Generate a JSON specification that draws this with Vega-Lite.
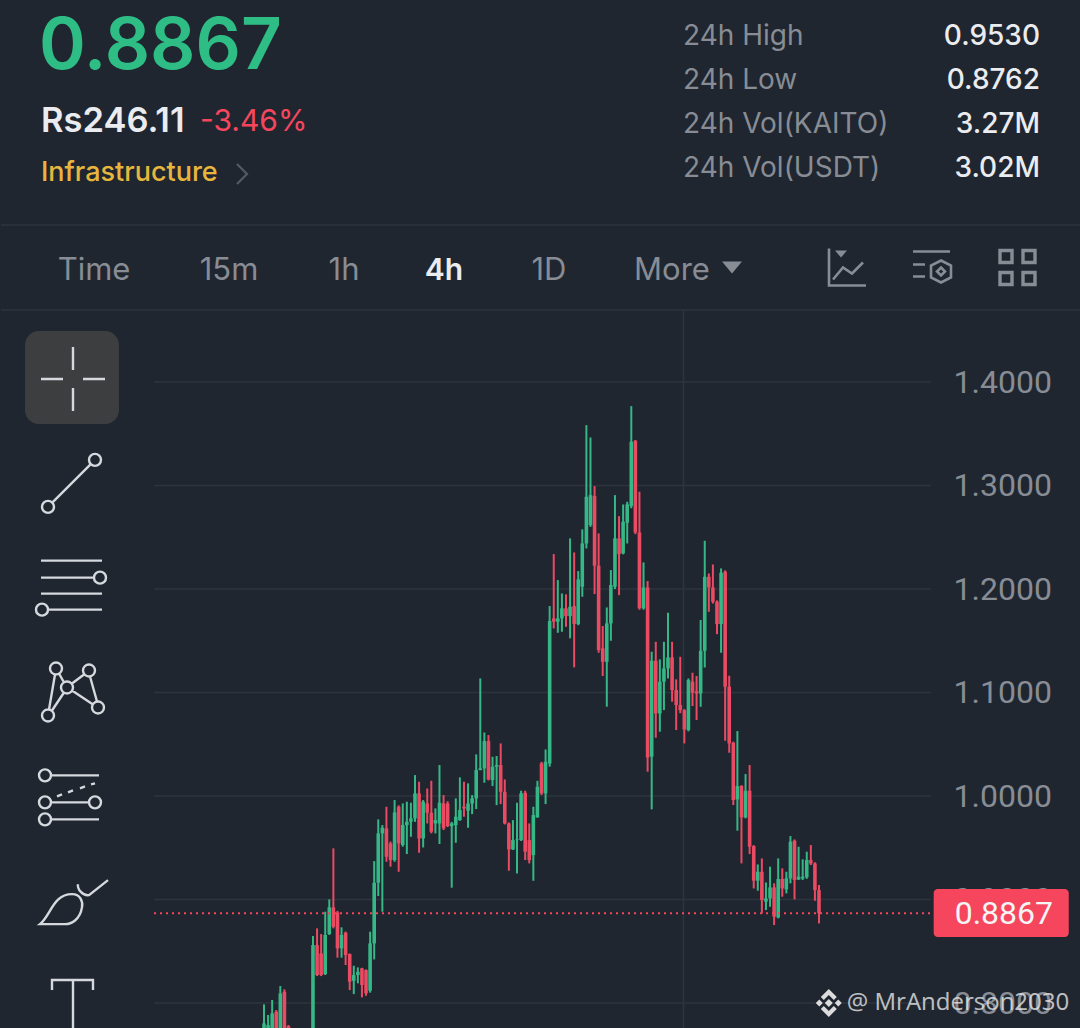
{
  "$schema": "https://vega.github.io/schema/vega-lite/v6.json",
  "background": "#1f2630",
  "padding": 0,
  "spacing": 0,
  "bounds": "flush",
  "config": {
    "view": {"stroke": null},
    "axisX": {"disable": true},
    "text": {"font": "Inter"},
    "concat": {"spacing": 0}
  },
  "datasets": {
    "candles": [
      {"t":0,"dir":"up","open":0.75,"close":0.7803,"high":0.7987,"low":0.74},
      {"t":1,"dir":"up","open":0.76,"close":0.7787,"high":0.7884,"low":0.75},
      {"t":2,"dir":"up","open":0.77,"close":0.79,"high":0.8029,"low":0.76},
      {"t":3,"dir":"down","open":0.7916,"close":0.77,"high":0.7932,"low":0.76},
      {"t":4,"dir":"up","open":0.775,"close":0.8093,"high":0.8164,"low":0.77},
      {"t":5,"dir":"down","open":0.8109,"close":0.772,"high":0.8132,"low":0.765},
      {"t":6,"dir":"down","open":0.7777,"close":0.76,"high":0.7787,"low":0.75},
      {"t":12,"dir":"up","open":0.74,"close":0.856,"high":0.8647,"low":0.73},
      {"t":13,"dir":"down","open":0.856,"close":0.827,"high":0.8721,"low":0.826},
      {"t":14,"dir":"down","open":0.8479,"close":0.827,"high":0.8666,"low":0.826},
      {"t":15,"dir":"up","open":0.828,"close":0.8657,"high":0.8882,"low":0.827},
      {"t":16,"dir":"up","open":0.8666,"close":0.8924,"high":0.9001,"low":0.8657},
      {"t":17,"dir":"down","open":0.8924,"close":0.8737,"high":0.9494,"low":0.8721},
      {"t":18,"dir":"down","open":0.8875,"close":0.8528,"high":0.889,"low":0.8438},
      {"t":19,"dir":"up","open":0.8528,"close":0.8657,"high":0.8731,"low":0.8438},
      {"t":20,"dir":"down","open":0.8679,"close":0.8463,"high":0.869,"low":0.8367},
      {"t":21,"dir":"down","open":0.8473,"close":0.8206,"high":0.8479,"low":0.8125},
      {"t":22,"dir":"up","open":0.8215,"close":0.827,"high":0.836,"low":0.8086},
      {"t":23,"dir":"up","open":0.827,"close":0.8302,"high":0.8344,"low":0.819},
      {"t":24,"dir":"down","open":0.8335,"close":0.8174,"high":0.834,"low":0.8054},
      {"t":25,"dir":"down","open":0.8318,"close":0.8093,"high":0.8325,"low":0.807},
      {"t":26,"dir":"up","open":0.8119,"close":0.8576,"high":0.8689,"low":0.81},
      {"t":27,"dir":"up","open":0.8576,"close":0.9162,"high":0.9371,"low":0.8421},
      {"t":28,"dir":"up","open":0.9162,"close":0.9639,"high":0.9774,"low":0.9033},
      {"t":29,"dir":"up","open":0.9639,"close":0.9693,"high":0.9719,"low":0.8882},
      {"t":30,"dir":"down","open":0.9687,"close":0.9413,"high":0.9896,"low":0.9365},
      {"t":31,"dir":"down","open":0.9542,"close":0.9381,"high":0.956,"low":0.9317},
      {"t":32,"dir":"up","open":0.9381,"close":0.9841,"high":0.9961,"low":0.9365},
      {"t":33,"dir":"down","open":0.9896,"close":0.9542,"high":0.991,"low":0.9268},
      {"t":34,"dir":"up","open":0.9526,"close":0.9719,"high":0.9928,"low":0.951},
      {"t":35,"dir":"up","open":0.9719,"close":0.9751,"high":0.9945,"low":0.9439},
      {"t":36,"dir":"up","open":0.9751,"close":0.9784,"high":0.9935,"low":0.9606},
      {"t":37,"dir":"up","open":0.9784,"close":1.0025,"high":1.0202,"low":0.975},
      {"t":38,"dir":"down","open":1.0025,"close":0.959,"high":1.0138,"low":0.9452},
      {"t":39,"dir":"up","open":0.959,"close":0.9945,"high":0.9961,"low":0.9503},
      {"t":40,"dir":"down","open":0.9928,"close":0.9838,"high":1.0073,"low":0.9735},
      {"t":41,"dir":"down","open":0.9838,"close":0.9655,"high":1.0147,"low":0.9639},
      {"t":42,"dir":"up","open":0.9735,"close":0.9767,"high":0.988,"low":0.9639},
      {"t":43,"dir":"up","open":0.9735,"close":0.9935,"high":1.0299,"low":0.9536},
      {"t":44,"dir":"down","open":0.9928,"close":0.9687,"high":1.0009,"low":0.9671},
      {"t":45,"dir":"down","open":0.9928,"close":0.9709,"high":0.995,"low":0.97},
      {"t":46,"dir":"up","open":0.9709,"close":0.9735,"high":0.975,"low":0.9114},
      {"t":47,"dir":"up","open":0.9719,"close":0.98,"high":0.9977,"low":0.9548},
      {"t":48,"dir":"up","open":0.9767,"close":0.9864,"high":1.018,"low":0.9761},
      {"t":49,"dir":"down","open":0.9896,"close":0.988,"high":1.0138,"low":0.98},
      {"t":50,"dir":"up","open":0.9858,"close":0.9928,"high":1.0122,"low":0.9693},
      {"t":51,"dir":"up","open":0.9928,"close":0.9977,"high":1.0009,"low":0.9825},
      {"t":52,"dir":"up","open":0.9977,"close":1.025,"high":1.0402,"low":0.9874},
      {"t":53,"dir":"up","open":1.025,"close":1.0267,"high":1.1136,"low":1.025},
      {"t":54,"dir":"up","open":1.0267,"close":1.0531,"high":1.0614,"low":1.0128},
      {"t":55,"dir":"down","open":1.0531,"close":1.016,"high":1.0589,"low":1.015},
      {"t":56,"dir":"up","open":1.0154,"close":1.0283,"high":1.0379,"low":1.0096},
      {"t":57,"dir":"up","open":1.0283,"close":1.0299,"high":1.0386,"low":0.9912},
      {"t":58,"dir":"down","open":1.0299,"close":1.0041,"high":1.0508,"low":0.9922},
      {"t":59,"dir":"down","open":1.0041,"close":0.9735,"high":1.016,"low":0.9725},
      {"t":60,"dir":"down","open":0.9735,"close":0.9484,"high":0.9745,"low":0.9278},
      {"t":61,"dir":"up","open":0.9484,"close":0.9574,"high":0.9767,"low":0.9478},
      {"t":62,"dir":"up","open":0.9574,"close":0.9581,"high":0.9935,"low":0.9252},
      {"t":63,"dir":"up","open":0.9574,"close":1.0025,"high":1.0051,"low":0.9565},
      {"t":64,"dir":"down","open":1.0031,"close":0.9462,"high":1.0051,"low":0.9381},
      {"t":65,"dir":"down","open":0.9574,"close":0.9381,"high":0.9735,"low":0.9349},
      {"t":66,"dir":"up","open":0.9429,"close":0.9816,"high":0.9896,"low":0.9181},
      {"t":67,"dir":"up","open":0.9794,"close":1.0089,"high":1.0147,"low":0.979},
      {"t":68,"dir":"down","open":1.0315,"close":1.0025,"high":1.033,"low":1.001},
      {"t":69,"dir":"up","open":1.0025,"close":1.0331,"high":1.045,"low":0.9922},
      {"t":70,"dir":"up","open":1.0315,"close":1.169,"high":1.1835,"low":1.0283},
      {"t":71,"dir":"down","open":1.1716,"close":1.1684,"high":1.2337,"low":1.1619},
      {"t":72,"dir":"up","open":1.1684,"close":1.1716,"high":1.2086,"low":1.1577},
      {"t":73,"dir":"up","open":1.1716,"close":1.1813,"high":1.1957,"low":1.1587},
      {"t":74,"dir":"down","open":1.1813,"close":1.1738,"high":1.1948,"low":1.1635},
      {"t":75,"dir":"up","open":1.1738,"close":1.1829,"high":1.2489,"low":1.1523},
      {"t":76,"dir":"down","open":1.1835,"close":1.1661,"high":1.2353,"low":1.1243},
      {"t":77,"dir":"up","open":1.1661,"close":1.2093,"high":1.2173,"low":1.165},
      {"t":78,"dir":"up","open":1.2022,"close":1.244,"high":1.2576,"low":1.1925},
      {"t":79,"dir":"up","open":1.244,"close":1.2891,"high":1.3583,"low":1.2392},
      {"t":80,"dir":"up","open":1.2617,"close":1.2907,"high":1.3464,"low":1.26},
      {"t":81,"dir":"down","open":1.2898,"close":1.2225,"high":1.2994,"low":1.1951},
      {"t":82,"dir":"down","open":1.2225,"close":1.141,"high":1.2537,"low":1.1384},
      {"t":83,"dir":"down","open":1.1426,"close":1.1297,"high":1.1642,"low":1.1159},
      {"t":84,"dir":"up","open":1.1297,"close":1.1668,"high":1.1822,"low":1.0863},
      {"t":85,"dir":"up","open":1.1668,"close":1.2038,"high":1.2183,"low":1.15},
      {"t":86,"dir":"up","open":1.2022,"close":1.2489,"high":1.2907,"low":1.2},
      {"t":87,"dir":"down","open":1.2489,"close":1.2337,"high":1.2704,"low":1.1941},
      {"t":88,"dir":"up","open":1.2344,"close":1.265,"high":1.2817,"low":1.2335},
      {"t":89,"dir":"up","open":1.264,"close":1.2817,"high":1.2843,"low":1.244},
      {"t":90,"dir":"up","open":1.2801,"close":1.3423,"high":1.3767,"low":1.278},
      {"t":91,"dir":"down","open":1.3432,"close":1.2547,"high":1.344,"low":1.253},
      {"t":92,"dir":"down","open":1.2547,"close":1.1813,"high":1.294,"low":1.18},
      {"t":93,"dir":"up","open":1.1813,"close":1.2015,"high":1.2257,"low":1.18},
      {"t":94,"dir":"down","open":1.2015,"close":1.0373,"high":1.2077,"low":1.0235},
      {"t":95,"dir":"up","open":1.038,"close":1.1307,"high":1.1394,"low":0.9871},
      {"t":96,"dir":"down","open":1.1307,"close":1.0798,"high":1.149,"low":1.0563},
      {"t":97,"dir":"up","open":1.0798,"close":1.1104,"high":1.132,"low":1.0621},
      {"t":98,"dir":"up","open":1.1104,"close":1.1233,"high":1.149,"low":1.083},
      {"t":99,"dir":"up","open":1.1233,"close":1.1339,"high":1.1771,"low":1.1136},
      {"t":100,"dir":"down","open":1.1339,"close":1.1024,"high":1.149,"low":1.0911},
      {"t":101,"dir":"down","open":1.1024,"close":1.0879,"high":1.1127,"low":1.0637},
      {"t":102,"dir":"down","open":1.0879,"close":1.083,"high":1.1345,"low":1.08},
      {"t":103,"dir":"down","open":1.083,"close":1.0643,"high":1.084,"low":1.0508},
      {"t":104,"dir":"up","open":1.0637,"close":1.112,"high":1.1136,"low":1.0625},
      {"t":105,"dir":"down","open":1.1104,"close":1.0998,"high":1.1191,"low":1.0869},
      {"t":106,"dir":"down","open":1.1011,"close":1.0991,"high":1.1159,"low":1.0734},
      {"t":107,"dir":"up","open":1.0991,"close":1.1403,"high":1.17,"low":1.0862},
      {"t":108,"dir":"up","open":1.1403,"close":1.2118,"high":1.2466,"low":1.1242},
      {"t":109,"dir":"down","open":1.2118,"close":1.2015,"high":1.215,"low":1.178},
      {"t":110,"dir":"down","open":1.2015,"close":1.1877,"high":1.2237,"low":1.186},
      {"t":111,"dir":"down","open":1.1877,"close":1.1661,"high":1.189,"low":1.1564},
      {"t":112,"dir":"up","open":1.1661,"close":1.2157,"high":1.2199,"low":1.1384},
      {"t":113,"dir":"down","open":1.2167,"close":1.1056,"high":1.218,"low":1.0534},
      {"t":114,"dir":"down","open":1.1056,"close":1.0508,"high":1.1162,"low":1.0418},
      {"t":115,"dir":"down","open":1.0515,"close":0.9961,"high":1.0525,"low":0.9913},
      {"t":116,"dir":"up","open":0.9967,"close":1.0096,"high":1.0627,"low":0.9665},
      {"t":117,"dir":"down","open":1.0096,"close":0.9793,"high":1.0105,"low":0.9349},
      {"t":118,"dir":"up","open":0.9793,"close":1.0051,"high":1.0212,"low":0.9784},
      {"t":119,"dir":"down","open":1.0051,"close":0.951,"high":1.0299,"low":0.9439},
      {"t":120,"dir":"down","open":0.9516,"close":0.9182,"high":0.9525,"low":0.9107},
      {"t":121,"dir":"up","open":0.9182,"close":0.9268,"high":0.9339,"low":0.9085},
      {"t":122,"dir":"down","open":0.9268,"close":0.8995,"high":0.9397,"low":0.8866},
      {"t":123,"dir":"up","open":0.8979,"close":0.9011,"high":0.9165,"low":0.8898},
      {"t":124,"dir":"up","open":0.9011,"close":0.9117,"high":0.9317,"low":0.893},
      {"t":125,"dir":"down","open":0.9117,"close":0.8834,"high":0.9156,"low":0.8753},
      {"t":126,"dir":"up","open":0.8827,"close":0.9198,"high":0.9397,"low":0.8818},
      {"t":127,"dir":"down","open":0.9198,"close":0.9107,"high":0.9301,"low":0.9027},
      {"t":128,"dir":"up","open":0.9098,"close":0.9204,"high":0.9268,"low":0.9059},
      {"t":129,"dir":"up","open":0.9204,"close":0.9558,"high":0.9613,"low":0.9156},
      {"t":130,"dir":"down","open":0.9568,"close":0.9188,"high":0.958,"low":0.9001},
      {"t":131,"dir":"up","open":0.9194,"close":0.922,"high":0.951,"low":0.9188},
      {"t":132,"dir":"up","open":0.9204,"close":0.922,"high":0.9388,"low":0.9188},
      {"t":133,"dir":"up","open":0.9215,"close":0.9381,"high":0.9462,"low":0.92},
      {"t":134,"dir":"down","open":0.9381,"close":0.9349,"high":0.9526,"low":0.9333},
      {"t":135,"dir":"down","open":0.9349,"close":0.9091,"high":0.936,"low":0.8988},
      {"t":136,"dir":"down","open":0.9091,"close":0.8867,"high":0.914,"low":0.8769}
    ],
    "stats": [
      {"line":"1","metric":"24h High","value":"0.9530"},
      {"line":"2","metric":"24h Low","value":"0.8762"},
      {"line":"3","metric":"24h Vol(KAITO)","value":"3.27M"},
      {"line":"4","metric":"24h Vol(USDT)","value":"3.02M"}
    ],
    "tools": [
      {"tool":"crosshair"},
      {"tool":"trendline"},
      {"tool":"fib"},
      {"tool":"pattern"},
      {"tool":"channel"},
      {"tool":"brush"},
      {"tool":"text"}
    ]
  },
  "vconcat": [
    {
      "width": 1080,
      "height": 225,
      "encoding": {
        "y": {"field":"line","type":"nominal","axis":null,"scale":{"type":"point","domain":["1","2","3","4"],"range":[38,170],"padding":0}}
      },
      "layer": [
        {
          "data": {"values": [{"line":"1","price":"0.8867"}]},
          "mark": {"type":"text","align":"left","fontSize":71,"fontWeight":600,"color":"#2ebd85","dy":10},
          "encoding": {
            "x": {"datum":38,"type":"quantitative","scale":{"domain":[0,1080],"nice":false,"zero":false}},
            "text": {"field":"price"}
          }
        },
        {
          "data": {"values": [{"line":"3","fiat":"Rs246.11"}]},
          "mark": {"type":"text","align":"left","fontSize":34.5,"fontWeight":600,"color":"#eaecef","dy":-4},
          "encoding": {
            "x": {"datum":40,"type":"quantitative"},
            "text": {"field":"fiat"}
          }
        },
        {
          "data": {"values": [{"line":"3","change":"-3.46%"}]},
          "mark": {"type":"text","align":"left","fontSize":30,"color":"#f6465d","dy":-4},
          "encoding": {
            "x": {"datum":199,"type":"quantitative"},
            "text": {"field":"change"}
          }
        },
        {
          "data": {"values": [{"line":"4","tag":"Infrastructure"}]},
          "mark": {"type":"text","align":"left","fontSize":27,"fontWeight":500,"color":"#e8b63c","dy":3},
          "encoding": {
            "x": {"datum":40,"type":"quantitative"},
            "text": {"field":"tag"}
          }
        },
        {
          "data": {"values": [{"line":"4"}]},
          "mark": {"type":"point","shape":"M-4,-6L6,4L-4,14","size":4,"filled":false,"stroke":"#6b7078","strokeWidth":2.2},
          "encoding": {
            "x": {"datum":240,"type":"quantitative"}
          }
        },
        {
          "data": {"name": "stats"},
          "mark": {"type":"text","align":"left","fontSize":28,"color":"#888c94","dy":-1},
          "encoding": {
            "x": {"datum":682,"type":"quantitative"},
            "text": {"field":"metric"}
          }
        },
        {
          "data": {"name": "stats"},
          "mark": {"type":"text","align":"right","fontSize":28,"fontWeight":500,"color":"#eaecef","dy":-1},
          "encoding": {
            "x": {"datum":1039,"type":"quantitative"},
            "text": {"field":"value"}
          }
        }
      ]
    },
    {
      "width": 1080,
      "height": 85,
      "layer": [
        {
          "data": {"values": [{"edge":0},{"edge":1}]},
          "mark": {"type":"rule","stroke":"#2e343e","strokeWidth":1.5},
          "encoding": {
            "y": {"field":"edge","type":"quantitative","axis":null,"scale":{"domain":[0,1],"reverse":true,"nice":false,"zero":false}}
          }
        },
        {
          "data": {"values": [{"tab":"Time"}]},
          "mark": {"type":"text","fontSize":31,"color":"#888c94","dy":3},
          "encoding": {
            "x": {"datum":93,"type":"quantitative","scale":{"domain":[0,1080],"nice":false,"zero":false}},
            "text": {"field":"tab"}
          }
        },
        {
          "data": {"values": [{"tab":"15m"}]},
          "mark": {"type":"text","fontSize":31,"color":"#888c94","dy":3},
          "encoding": {"x": {"datum":228,"type":"quantitative"},"text": {"field":"tab"}}
        },
        {
          "data": {"values": [{"tab":"1h"}]},
          "mark": {"type":"text","fontSize":31,"color":"#888c94","dy":3},
          "encoding": {"x": {"datum":343,"type":"quantitative"},"text": {"field":"tab"}}
        },
        {
          "data": {"values": [{"tab":"4h"}]},
          "mark": {"type":"text","fontSize":30,"fontWeight":600,"color":"#eaecef","dy":3},
          "encoding": {"x": {"datum":443,"type":"quantitative"},"text": {"field":"tab"}}
        },
        {
          "data": {"values": [{"tab":"1D"}]},
          "mark": {"type":"text","fontSize":31,"color":"#888c94","dy":3},
          "encoding": {"x": {"datum":548,"type":"quantitative"},"text": {"field":"tab"}}
        },
        {
          "data": {"values": [{"tab":"More"}]},
          "mark": {"type":"text","fontSize":31,"color":"#888c94","dy":3},
          "encoding": {"x": {"datum":671,"type":"quantitative"},"text": {"field":"tab"}}
        },
        {
          "data": {"values": [{"icon":"caret"}]},
          "mark": {"type":"point","shape":"M-10,-6H10L0,6Z","size":4,"filled":true,"fill":"#888c94","opacity":1},
          "encoding": {"x": {"datum":731,"type":"quantitative"}}
        },
        {
          "data": {"values": [{"icon":"indicators"}]},
          "mark": {"type":"point","shape":"M-18,-19V18H19M-14,12L-4,0L5,6L16,-5","size":4,"filled":false,"stroke":"#888c94","strokeWidth":2.6,"opacity":1},
          "encoding": {"x": {"datum":846,"type":"quantitative"}}
        },
        {
          "data": {"values": [{"icon":"indicators-mark"}]},
          "mark": {"type":"point","shape":"M-12,-17H0L-6,-10Z","size":4,"filled":true,"fill":"#888c94","opacity":1},
          "encoding": {"x": {"datum":846,"type":"quantitative"}}
        },
        {
          "data": {"values": [{"icon":"settings"}]},
          "mark": {"type":"point","shape":"M-19,-16H18M-19,-3H-7M-19,9H-7M9,-7L19,-2V10L9,15L-1,10V-2ZM9,0L13,4L9,8L5,4Z","size":4,"filled":false,"stroke":"#888c94","strokeWidth":2.6,"opacity":1},
          "encoding": {"x": {"datum":931,"type":"quantitative"}}
        },
        {
          "data": {"values": [{"icon":"layout"}]},
          "mark": {"type":"point","shape":"M-17,-17H-5V-5H-17ZM6,-17H18V-5H6ZM-17,5H-5V17H-17ZM6,5H18V17H6Z","size":4,"filled":false,"stroke":"#888c94","strokeWidth":3.4,"opacity":1},
          "encoding": {"x": {"datum":1016,"type":"quantitative"}}
        }
      ]
    },
    {
      "spacing": 0,
      "bounds": "flush",
      "hconcat": [
        {
          "width": 146,
          "height": 718,
          "data": {"name": "tools"},
          "encoding": {
            "y": {"field":"tool","type":"nominal","sort":null,"axis":null,"scale":{"type":"point","range":[69,698],"padding":0}}
          },
          "layer": [
            {
              "transform": [{"filter":"datum.tool === 'crosshair'"}],
              "mark": {"type":"point","shape":"M-35,-48H31A14,14 0 0 1 45,-34V31A14,14 0 0 1 31,45H-35A14,14 0 0 1 -49,31V-34A14,14 0 0 1 -35,-48Z","size":4,"filled":true,"fill":"#3d3e40","opacity":1}
            },
            {
              "mark": {"type":"point","size":4,"filled":false,"stroke":"#d5d8dc","strokeWidth":2.4,"opacity":1,"clip":true},
              "encoding": {
                "shape": {
                  "field":"tool",
                  "type":"nominal",
                  "legend":null,
                  "scale":{
                    "domain":["crosshair","trendline","fib","pattern","channel","brush","text"],
                    "range":[
                      "M-33,0H-11M9,0H31M-1,-32V-9M-1,9V32",
                      "M27,-24A6,6 0 1 0 15,-24A6,6 0 1 0 27,-24M-20,23A6,6 0 1 0 -32,23A6,6 0 1 0 -20,23M-22,19L17,-20",
                      "M-33,-28H28M-33,-11H20M-33,5H28M-26,21H28M32,-11A6,6 0 1 0 20,-11A6,6 0 1 0 32,-11M-26,21A6,6 0 1 0 -38,21A6,6 0 1 0 -26,21",
                      "M-12,-25A6,6 0 1 0 -24,-25A6,6 0 1 0 -12,-25M21,-23A6,6 0 1 0 9,-23A6,6 0 1 0 21,-23M-1,-6A6,6 0 1 0 -13,-6A6,6 0 1 0 -1,-6M-20,22A6,6 0 1 0 -32,22A6,6 0 1 0 -20,22M30,14A6,6 0 1 0 18,14A6,6 0 1 0 30,14M-19,-19L-25,16M-15,-20L-10,-11M-10,-1L-22,17M-2,-10L10,-19M16,-17L23,8M-2,-3L19,11",
                      "M-23,-23A6,6 0 1 0 -35,-23A6,6 0 1 0 -23,-23M-23,4A6,6 0 1 0 -35,4A6,6 0 1 0 -23,4M27,4A6,6 0 1 0 15,4A6,6 0 1 0 27,4M-23,21A6,6 0 1 0 -35,21A6,6 0 1 0 -23,21M-23,-23H25M-23,4H15M-23,21H25M-17,-2L-12,-4M-6,-6L-1,-8M6,-10L11,-12M17,-14L21,-15",
                      "M-34,21C-23,12 -21,-9 -2,-9C7,-9 9,-1 8,4C6,17 -3,21 -9,21ZM4,-19C3,-14 9,-7 15,-8L34,-23",
                      "M-22,-18V-28H19V-18M-1,-28V20"
                    ]
                  }
                }
              }
            }
          ]
        },
        {
          "width": 934,
          "height": 718,
          "layer": [
            {
              "data": {"values": [{"level":1.4},{"level":1.3},{"level":1.2},{"level":1.1},{"level":1.0},{"level":0.9},{"level":0.8}]},
              "mark": {"type":"rule","stroke":"#2e343e","strokeWidth":1.6},
              "encoding": {
                "x": {"datum":-26.95,"type":"quantitative","scale":{"domain":[-28.67,200.2],"nice":false,"zero":false,"padding":0}},
                "x2": {"datum":163.4},
                "y": {
                  "field":"level",
                  "type":"quantitative",
                  "scale":{"domain":[0.77585,1.46957],"nice":false,"zero":false},
                  "axis":{"orient":"right","title":null,"values":[0.8,0.9,1.0,1.1,1.2,1.3,1.4],"format":".4f","domain":false,"ticks":false,"grid":false,"labelPadding":-128,"labelAlign":"left","labelFont":"Roboto","labelFontSize":32,"labelColor":"#888c94","labelFlush":false,"labelOverlap":false}
                }
              }
            },
            {
              "data": {"values": [{"cursor":"crosshair"}]},
              "mark": {"type":"rule","stroke":"#2e343e","strokeWidth":1.6},
              "encoding": {"x": {"datum":102.8,"type":"quantitative"}}
            },
            {
              "data": {"name": "candles"},
              "mark": {"type":"rule","strokeWidth":2,"clip":true},
              "encoding": {
                "x": {"field":"t","type":"quantitative"},
                "y": {"field":"low","type":"quantitative"},
                "y2": {"field":"high"},
                "color": {"field":"dir","type":"nominal","legend":null,"scale":{"domain":["up","down"],"range":["#35b886","#ea4a62"]}}
              }
            },
            {
              "data": {"name": "candles"},
              "mark": {"type":"bar","size":3.6,"clip":true},
              "encoding": {
                "x": {"field":"t","type":"quantitative"},
                "y": {"field":"open","type":"quantitative"},
                "y2": {"field":"close"},
                "color": {"field":"dir","type":"nominal","legend":null}
              }
            },
            {
              "data": {"values": [{"last":0.8867}]},
              "mark": {"type":"rule","stroke":"#f6465d","strokeWidth":2,"strokeDash":[2,4]},
              "encoding": {
                "x": {"datum":-26.95,"type":"quantitative"},
                "x2": {"datum":163.4},
                "y": {"field":"last","type":"quantitative"}
              }
            },
            {
              "data": {"values": [{"last":0.8867}]},
              "mark": {"type":"rect","fill":"#f6465d","cornerRadius":4},
              "encoding": {
                "x": {"datum":164.1,"type":"quantitative"},
                "x2": {"datum":197.2},
                "y": {"datum":0.9101,"type":"quantitative"},
                "y2": {"datum":0.8638}
              }
            },
            {
              "data": {"values": [{"last":0.8867}]},
              "mark": {"type":"text","font":"Roboto","fontSize":32,"color":"#f5f5f5","dy":1},
              "encoding": {
                "x": {"datum":181.3,"type":"quantitative"},
                "y": {"field":"last","type":"quantitative"},
                "text": {"field":"last","type":"quantitative","format":".4f"}
              }
            },
            {
              "data": {"values": [{"mark":"logo","level":0.8}]},
              "mark": {"type":"point","shape":"M0,-4L4,0L0,4L-4,0ZM-13,0L-9.5,-3.5L-6,0L-9.5,3.5ZM13,0L9.5,-3.5L6,0L9.5,3.5ZM0,-14L8,-6L5,-3L0,-8L-5,-3L-8,-6ZM0,14L8,6L5,3L0,8L-5,3L-8,6Z","size":4,"filled":true,"fill":"#dcdcdc","opacity":1},
              "encoding": {
                "x": {"datum":138.4,"type":"quantitative"},
                "y": {"field":"level","type":"quantitative"}
              }
            },
            {
              "data": {"values": [{"handle":"@ MrAnderson2030","level":0.8}]},
              "mark": {"type":"text","align":"left","font":"Open Sans","fontSize":24,"color":"#e6e6e6","opacity":0.8},
              "encoding": {
                "x": {"datum":142.8,"type":"quantitative"},
                "y": {"field":"level","type":"quantitative"},
                "text": {"field":"handle"}
              }
            }
          ]
        }
      ]
    }
  ]
}
